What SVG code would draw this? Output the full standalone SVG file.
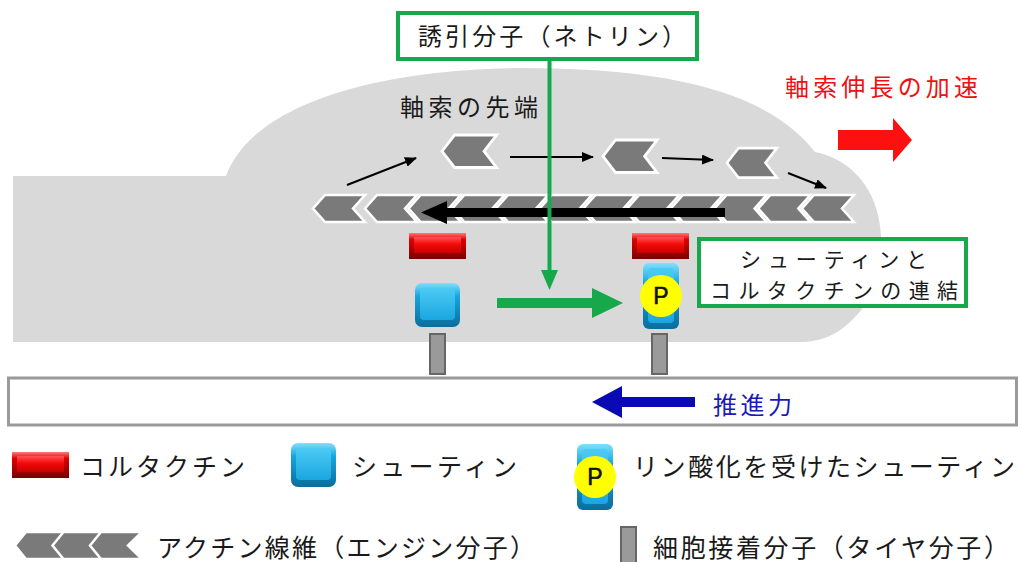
<svg xmlns="http://www.w3.org/2000/svg" xmlns:xlink="http://www.w3.org/1999/xlink" width="1021" height="562" viewBox="0 0 1021 562">
  <style>
    .jp { font-family: "Noto Sans CJK JP", "Noto Sans CJK SC", sans-serif; fill: #1a1a1a; }
    .lbl { font-size: 24px; }
    .lbl2 { font-size: 21px; }
    .leg { font-size: 25px; }
    .red { fill: #ee1111; }
    .blue { fill: #1a1ab8; }
    .box { fill: #ffffff; stroke: #16a84a; stroke-width: 4; }
    .actin { fill: #7a7a7a; stroke: #ffffff; stroke-width: 2.5; stroke-linejoin: miter; }
    .peg { fill: #9a9a9a; stroke: #666666; stroke-width: 2; }
    .thin { stroke: #000000; stroke-width: 2; fill: none; }
    .pletter { font-family: "Liberation Sans", Arial, sans-serif; font-size: 23px; fill: #111111; stroke: #111111; stroke-width: 0.6; }
  </style>
  <defs>
    <linearGradient id="redEdge" x1="0" y1="0" x2="0" y2="1">
      <stop offset="0" stop-color="#ff7a7a"/>
      <stop offset="0.25" stop-color="#e00000"/>
      <stop offset="1" stop-color="#7a0000"/>
    </linearGradient>
    <linearGradient id="redFace" x1="0" y1="0" x2="0" y2="1">
      <stop offset="0" stop-color="#ff5252"/>
      <stop offset="0.45" stop-color="#f40a0a"/>
      <stop offset="1" stop-color="#c80000"/>
    </linearGradient>
    <linearGradient id="blueEdge" x1="0" y1="0" x2="0" y2="1">
      <stop offset="0" stop-color="#7fe0ff"/>
      <stop offset="0.3" stop-color="#16a6dc"/>
      <stop offset="1" stop-color="#0a6e9e"/>
    </linearGradient>
    <linearGradient id="blueFace" x1="0" y1="0" x2="0" y2="1">
      <stop offset="0" stop-color="#4ccbf4"/>
      <stop offset="1" stop-color="#1aa6e0"/>
    </linearGradient>

    <!-- actin filament segment, pointing left -->
    <path id="chev" d="M0,13.5 L12,0 H52 L40,13.5 L52,27 H12 Z"/>
    <path id="chevLeg" d="M0,13.5 L11,0 H52 L38,13.5 L52,27 H11 Z"/>

    <!-- cortactin brick -->
    <symbol id="cortactin" viewBox="0 0 57 26" width="57" height="26">
      <rect x="0" y="0" width="57" height="26" fill="url(#redEdge)"/>
      <rect x="5" y="4" width="47" height="16" fill="url(#redFace)"/>
    </symbol>

    <!-- shootin cube -->
    <symbol id="shootin" viewBox="0 0 45 44" width="45" height="44">
      <rect x="0" y="0" width="45" height="44" rx="7" fill="url(#blueEdge)"/>
      <rect x="5" y="5" width="35" height="32" rx="4" fill="url(#blueFace)"/>
    </symbol>

    <!-- phosphorylated shootin -->
    <symbol id="pshootin" viewBox="0 0 44 66" width="44" height="66">
      <rect x="4" y="0" width="36" height="66" rx="6" fill="url(#blueEdge)"/>
      <rect x="9" y="5" width="26" height="55" rx="4" fill="url(#blueFace)"/>
      <circle cx="22" cy="33" r="21" fill="#ffff00"/>
      <text x="22" y="41" text-anchor="middle" class="pletter">P</text>
    </symbol>

    <marker id="tip" viewBox="0 0 12 10" refX="11" refY="5" markerWidth="12" markerHeight="10" markerUnits="userSpaceOnUse" orient="auto">
      <path d="M0,0 L12,5 L0,10 Z" fill="#000000"/>
    </marker>
  </defs>

  <rect x="0" y="0" width="1021" height="562" fill="#ffffff"/>

  <!-- growth cone / axon body -->
  <g id="growth-cone">
    <path d="M13,176 H226 C250,110 360,70 520,68 C680,68 770,95 815,152 C845,158 870,180 878,215 C888,260 875,300 850,322 C835,336 820,342 800,342 H13 Z" fill="#d9d9d9"/>
    <text class="jp lbl" x="400" y="116" textLength="138" lengthAdjust="spacing">軸索の先端</text>
  </g>

  <!-- substrate -->
  <g id="substrate">
    <rect x="8.5" y="378" width="1008" height="47" fill="#ffffff" stroke="#9a9a9a" stroke-width="3"/>
  </g>

  <!-- actin filaments: bundle and free segments -->
  <g id="actin">
    <use href="#chev" class="actin" x="313" y="195"/>
    <use href="#chev" class="actin" x="365" y="195"/>
    <use href="#chev" class="actin" x="408.7" y="195"/>
    <use href="#chev" class="actin" x="452.4" y="195"/>
    <use href="#chev" class="actin" x="496.1" y="195"/>
    <use href="#chev" class="actin" x="539.8" y="195"/>
    <use href="#chev" class="actin" x="583.5" y="195"/>
    <use href="#chev" class="actin" x="627.2" y="195"/>
    <use href="#chev" class="actin" x="670.9" y="195"/>
    <use href="#chev" class="actin" x="714.6" y="195"/>
    <use href="#chev" class="actin" x="758.3" y="195"/>
    <use href="#chev" class="actin" x="802" y="195"/>
    <use href="#chev" class="actin" transform="translate(442,135) scale(1.05,1.2)"/>
    <use href="#chev" class="actin" transform="translate(603,140) scale(1.04,1.2)"/>
    <use href="#chev" class="actin" transform="translate(727,148) scale(0.96,1.1)"/>
  </g>

  <!-- arrows -->
  <g id="connectors">
    <line class="thin" x1="347" y1="185" x2="416" y2="158" marker-end="url(#tip)"/>
    <line class="thin" x1="510" y1="157" x2="593" y2="157" marker-end="url(#tip)"/>
    <line class="thin" x1="662" y1="158" x2="713" y2="160" marker-end="url(#tip)"/>
    <line class="thin" x1="788" y1="173" x2="826" y2="188" marker-end="url(#tip)"/>
    <!-- retrograde flow of the filament bundle -->
    <path d="M725,208 H447 V201 L421,212.5 L447,224 V217 H725 Z" fill="#000000"/>
    <!-- netrin signal -->
    <line x1="549.5" y1="60" x2="549.5" y2="273" stroke="#16a84a" stroke-width="4"/>
    <path d="M541,270 H558 L549.5,290 Z" fill="#16a84a"/>
    <path d="M497,298 H592 V288 L623,303 L592,318 V308 H497 Z" fill="#16a84a"/>
    <!-- acceleration of elongation -->
    <path d="M838,130 H893 V118 L912,140 L893,162 V150 H838 Z" fill="#ff1010"/>
    <!-- traction force -->
    <path d="M695,397 H622 V386 L592,402 L622,418 V407 H695 Z" fill="#0a0ab4"/>
  </g>

  <!-- adhesion molecules and clutch components -->
  <g id="clutch-left">
    <use href="#cortactin" x="409" y="233"/>
    <use href="#shootin" x="415" y="283"/>
    <rect class="peg" x="430" y="334" width="15" height="40"/>
  </g>
  <g id="clutch-right">
    <use href="#cortactin" x="632" y="233"/>
    <use href="#pshootin" x="639" y="263"/>
    <rect class="peg" x="652" y="334" width="15" height="40"/>
  </g>

  <g id="netrin-label">
    <rect class="box" x="398" y="13" width="299" height="46"/>
    <text class="jp lbl" x="418" y="45" textLength="268" lengthAdjust="spacing">誘引分子（ネトリン）</text>
  </g>

  <g id="linkage-label">
    <rect class="box" x="699" y="239" width="267" height="67"/>
    <text class="jp lbl2" x="740" y="267" textLength="187" lengthAdjust="spacing">シューティンと</text>
    <text class="jp lbl2" x="710" y="298" textLength="248" lengthAdjust="spacing">コルタクチンの連結</text>
  </g>

  <g id="elongation-label">
    <text class="jp lbl red" x="785" y="96" textLength="193" lengthAdjust="spacing">軸索伸長の加速</text>
  </g>

  <g id="force-label">
    <text class="jp lbl blue" x="713" y="414" textLength="79" lengthAdjust="spacing">推進力</text>
  </g>

  <!-- legend -->
  <g id="legend-cortactin">
    <use href="#cortactin" x="12" y="452"/>
    <text class="jp leg" x="80" y="476" textLength="165" lengthAdjust="spacing">コルタクチン</text>
  </g>
  <g id="legend-shootin">
    <use href="#shootin" x="291" y="443"/>
    <text class="jp leg" x="352" y="476" textLength="165" lengthAdjust="spacing">シューティン</text>
  </g>
  <g id="legend-pshootin">
    <use href="#pshootin" x="573" y="444"/>
    <text class="jp leg" x="633" y="476" textLength="382" lengthAdjust="spacing">リン酸化を受けたシューティン</text>
  </g>
  <g id="legend-actin">
    <use href="#chevLeg" class="actin" x="15" y="532"/>
    <use href="#chevLeg" class="actin" x="52.5" y="532"/>
    <use href="#chevLeg" class="actin" x="90" y="532"/>
    <text class="jp leg" x="157" y="557" textLength="378" lengthAdjust="spacing">アクチン線維（エンジン分子）</text>
  </g>
  <g id="legend-adhesion">
    <rect class="peg" x="621" y="527" width="15" height="40"/>
    <text class="jp leg" x="653" y="557" textLength="356" lengthAdjust="spacing">細胞接着分子（タイヤ分子）</text>
  </g>
</svg>
